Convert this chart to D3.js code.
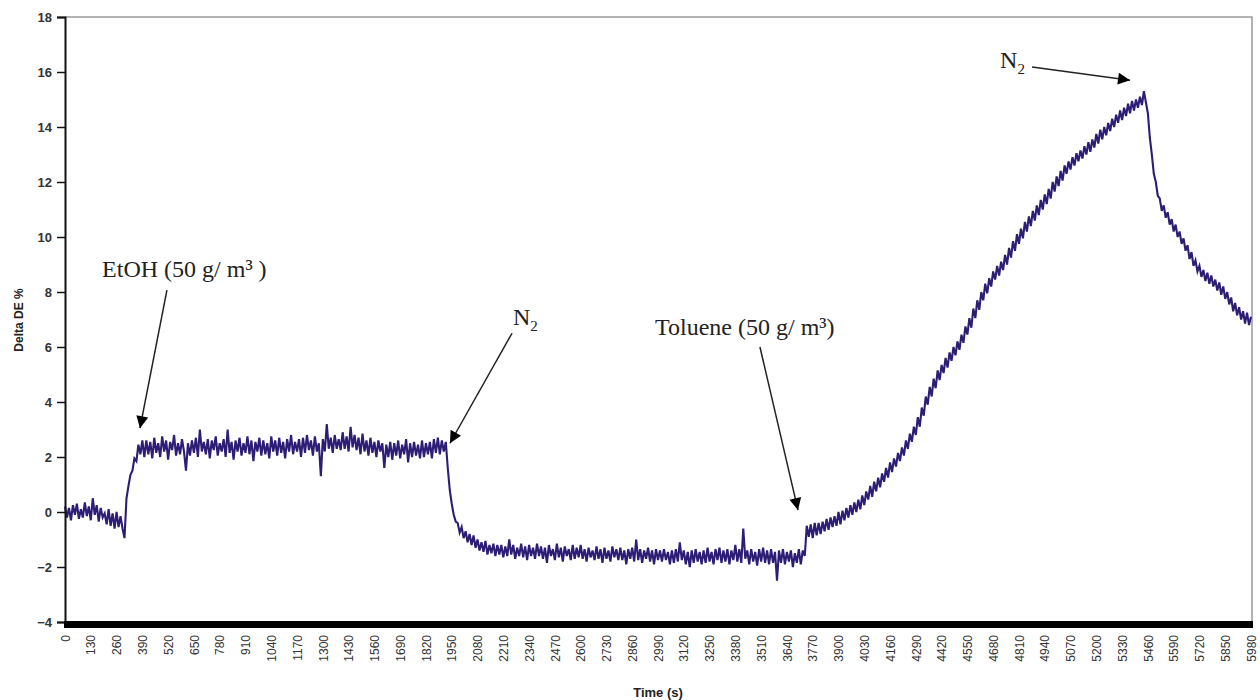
<!DOCTYPE html>
<html><head><meta charset="utf-8">
<script src="https://cdn.jsdelivr.net/npm/d3@7"></script>
<style>body{margin:0;background:#fff}</style></head>
<body><svg id="c" width="1260" height="700"></svg>
<script>
// sampling interval of the recorded trace (s)
const timeStep = 10;
// Delta DE %, one value every 10 s from 0 to 5980 s
const deltaDE = [
  0.2,-0.2,0.15,-0.3,0.25,-0.1,0.3,-0.25,0.1,-0.2,0.35,-0.15,0.2,-0.3,0.5,-0.1,0.25,-0.35,0.15,-0.2,
  -0.05,-0.45,0.1,-0.5,-0.05,-0.6,0.0,-0.55,-0.15,-0.6,-0.95,0.5,0.95,1.35,1.5,1.95,1.85,2.45,2.1,2.6,
  2.0,2.6,2.1,2.55,1.95,2.7,2.15,2.5,2.0,2.75,2.2,2.6,1.9,2.55,2.25,2.8,2.05,2.5,2.1,2.65,
  2.2,1.5,2.5,2.05,2.6,2.15,2.7,2.0,3.0,2.2,2.55,2.1,2.65,1.95,2.6,2.25,2.75,2.05,2.5,2.2,
  2.65,2.0,3.0,2.15,2.55,1.9,2.6,2.2,2.7,2.05,2.5,2.15,2.75,2.1,2.6,1.85,2.55,2.2,2.7,2.05,
  2.6,2.1,2.5,1.95,2.75,2.2,2.6,2.05,2.7,2.15,2.55,1.95,2.65,2.2,2.8,2.1,2.55,2.2,2.65,2.0,
  2.7,2.15,2.8,2.25,2.6,2.05,2.75,2.2,2.5,1.3,2.65,2.2,3.2,2.3,2.7,2.15,2.8,2.3,2.65,2.25,
  2.9,2.3,2.75,2.2,3.1,2.35,2.8,2.25,2.7,2.1,2.85,2.2,2.6,2.05,2.7,2.15,2.55,2.0,2.6,2.2,
  2.5,1.6,2.45,2.0,2.55,1.9,2.5,2.05,2.6,1.95,2.45,2.1,2.65,1.8,2.5,2.0,2.55,2.05,2.45,1.95,
  2.6,2.0,2.5,2.1,2.55,1.95,2.65,2.15,2.7,2.1,2.6,2.2,2.55,1.6,0.8,0.3,-0.1,-0.35,-0.4,-0.75,
  -0.55,-0.95,-0.7,-1.1,-0.8,-1.2,-0.85,-1.3,-1.0,-1.4,-1.1,-1.45,-1.05,-1.55,-1.2,-1.5,-1.15,-1.6,-1.2,-1.55,
  -1.2,-1.65,-1.25,-1.6,-1.0,-1.55,-1.2,-1.7,-1.3,-1.6,-1.15,-1.65,-1.25,-1.75,-1.2,-1.6,-1.3,-1.7,-1.15,-1.6,
  -1.25,-1.7,-1.3,-1.85,-1.2,-1.6,-1.35,-1.75,-1.15,-1.65,-1.3,-1.8,-1.25,-1.6,-1.35,-1.75,-1.2,-1.7,-1.3,-1.65,
  -1.2,-1.7,-1.35,-1.8,-1.3,-1.65,-1.4,-1.75,-1.25,-1.7,-1.35,-1.85,-1.3,-1.7,-1.4,-1.8,-1.25,-1.65,-1.35,-1.75,
  -1.3,-1.75,-1.4,-1.9,-1.35,-1.7,-1.3,-1.8,-1.0,-1.75,-1.35,-1.85,-1.4,-1.7,-1.3,-1.8,-1.4,-1.9,-1.35,-1.75,
  -1.4,-1.8,-1.35,-1.75,-1.45,-1.9,-1.4,-1.85,-1.35,-1.8,-1.1,-1.75,-1.4,-1.9,-1.45,-2.0,-1.4,-1.85,-1.35,-1.8,
  -1.45,-1.9,-1.4,-1.85,-1.3,-1.8,-1.45,-1.9,-1.35,-1.75,-1.3,-1.85,-1.4,-1.8,-1.35,-1.9,-1.4,-1.75,-1.2,-1.8,
  -1.35,-1.85,-0.6,-1.7,-1.4,-1.9,-1.35,-1.8,-1.45,-1.95,-1.35,-1.8,-1.3,-1.85,-1.4,-1.9,-1.35,-1.85,-1.45,-2.5,
  -1.4,-1.85,-1.35,-1.9,-1.45,-1.8,-1.4,-2.0,-1.5,-1.85,-1.35,-1.9,-1.4,-1.6,-0.5,-0.9,-0.45,-0.95,-0.4,-0.85,
  -0.4,-0.8,-0.35,-0.7,-0.25,-0.65,-0.2,-0.55,-0.15,-0.5,0.0,-0.45,0.05,-0.3,0.15,-0.2,0.25,-0.1,0.35,0.0,
  0.45,0.1,0.6,0.25,0.75,0.45,0.95,0.55,1.1,0.75,1.25,0.9,1.4,1.1,1.6,1.25,1.8,1.45,1.95,1.65,
  2.15,1.85,2.35,2.05,2.6,2.3,2.85,2.55,3.1,2.8,3.45,3.1,3.8,3.5,4.2,3.9,4.55,4.2,4.85,4.5,
  5.15,4.8,5.35,5.05,5.6,5.25,5.8,5.5,6.0,5.7,6.2,5.9,6.45,6.15,6.75,6.45,7.05,6.7,7.4,7.05,
  7.7,7.35,8.0,7.7,8.3,7.95,8.5,8.2,8.75,8.45,8.95,8.6,9.1,8.8,9.35,9.0,9.6,9.25,9.85,9.5,
  10.1,9.75,10.3,9.95,10.55,10.2,10.75,10.4,10.95,10.6,11.15,10.8,11.35,11.0,11.55,11.2,11.75,11.4,12.0,11.65,
  12.2,11.85,12.4,12.05,12.6,12.3,12.75,12.45,12.9,12.6,13.05,12.75,13.15,12.85,13.3,13.0,13.45,13.1,13.55,13.25,
  13.75,13.4,13.9,13.55,14.0,13.7,14.15,13.85,14.3,14.0,14.45,14.15,14.6,14.25,14.7,14.4,14.85,14.5,14.95,14.6,
  15.0,14.7,15.1,14.8,15.3,14.9,14.5,13.6,13.0,12.3,12.0,11.5,11.4,10.95,11.15,10.7,10.9,10.45,10.65,10.2,
  10.45,10.0,10.2,9.75,9.95,9.5,9.7,9.2,9.45,8.95,9.15,8.75,8.95,8.55,8.8,8.4,8.7,8.3,8.6,8.2,
  8.45,8.05,8.35,7.9,8.2,7.75,8.0,7.55,7.8,7.3,7.6,7.15,7.45,7.0,7.3,6.85,7.25,6.8,7.1
];
const xTickLabels = [0,130,260,390,520,650,780,910,1040,1170,1300,1430,1560,1690,1820,1950,2080,2210,2340,2470,2600,2730,2860,2990,3120,3250,3380,3510,3640,3770,3900,4030,4160,4290,4420,4550,4680,4810,4940,5070,5200,5330,5460,5590,5720,5850,5980];
const yTicks = [-4,-2,0,2,4,6,8,10,12,14,16,18];
const xTitle = "Time (s)";
const yTitle = "Delta DE %";
// annotation labels: text, label anchor (time, value), arrow start and tip (time, value)
const annoText = ["EtOH (50 g/ m³ )", "N₂", "Toluene (50 g/ m³)", "N₂"];
const annoLabelAt = [[187, 8.55], [2259, 6.8], [2975, 6.44], [4715, 16.15]];
const annoArrowFrom = [[514, 8.07], [2254, 6.5], [3504, 6.0], [4876, 16.18]];
const annoArrowTo = [[378, 3.05], [1941, 2.5], [3696, 0.07], [5370, 15.7]];

const series = deltaDE.map((v, i) => ({t: i * timeStep, v}));

const svg = d3.select("#c");
svg.append("rect").attr("width", 1260).attr("height", 700).attr("fill", "#fff");

const x = d3.scaleLinear().domain([0, 5980]).range([65, 1251]);
const y = d3.scaleLinear().domain([-4, 18]).range([622, 17]);

// frame (top & right, grey)
svg.append("path").attr("d", `M65,17H1252V622`).attr("fill", "none").attr("stroke", "#9a9a9a").attr("stroke-width", 1.5);

// data line
const line = d3.line().x(d => x(d.t)).y(d => y(d.v));
svg.append("path").datum(series).attr("d", line)
  .attr("fill", "none").attr("stroke", "#2d1d74").attr("stroke-width", 2.1).attr("stroke-linejoin", "miter");

// y axis
const yAxis = d3.axisLeft(y).tickValues(yTicks).tickSize(8).tickPadding(5).tickFormat(d3.format("d"));
const gy = svg.append("g").attr("transform", "translate(65,0)").call(yAxis);
gy.select(".domain").attr("stroke", "#111").attr("stroke-width", 2);
gy.selectAll(".tick line").attr("stroke", "#111").attr("stroke-width", 1.5);
gy.selectAll(".tick text").attr("font-family", "Liberation Sans, Arial, sans-serif").attr("font-size", 13).attr("font-weight", "bold").attr("fill", "#333");

// x axis (thick black base)
const xAxis = d3.axisBottom(x).tickValues(xTickLabels).tickSize(0).tickPadding(0).tickFormat(d3.format("d"));
const gx = svg.append("g").attr("transform", "translate(0,622)").call(xAxis);
gx.select(".domain").remove();
svg.append("rect").attr("x", 64).attr("y", 621).attr("width", 1189).attr("height", 7).attr("fill", "#000");
gx.selectAll(".tick text")
  .attr("font-family", "Liberation Sans, Arial, sans-serif").attr("font-size", 12).attr("fill", "#333")
  .attr("text-anchor", "end").attr("dy", "0.35em")
  .attr("transform", "translate(0,13) rotate(-90)").attr("x", 0).attr("y", 0);

// titles
svg.append("text").attr("x", 658).attr("y", 697).attr("text-anchor", "middle")
  .attr("font-family", "Liberation Sans, Arial, sans-serif").attr("font-size", 13).attr("font-weight", "bold").attr("fill", "#222").text(xTitle);
svg.append("text").attr("transform", "translate(23,320) rotate(-90)").attr("text-anchor", "middle")
  .attr("font-family", "Liberation Sans, Arial, sans-serif").attr("font-size", 12).attr("font-weight", "bold").attr("fill", "#222").text(yTitle);

// arrow marker
svg.append("defs").append("marker").attr("id", "ah").attr("viewBox", "0 0 10 10")
  .attr("refX", 10).attr("refY", 5).attr("markerWidth", 14).attr("markerHeight", 12)
  .attr("markerUnits", "userSpaceOnUse").attr("orient", "auto")
  .append("path").attr("d", "M0,0L10,5L0,10Z").attr("fill", "#000");

annoText.forEach((txt, i) => {
  const [t0, v0] = annoArrowFrom[i], [t1, v1] = annoArrowTo[i];
  svg.append("line").attr("x1", x(t0)).attr("y1", y(v0)).attr("x2", x(t1)).attr("y2", y(v1))
    .attr("stroke", "#222").attr("stroke-width", 1.5).attr("marker-end", "url(#ah)");
  const [lt, lv] = annoLabelAt[i];
  const tx = svg.append("text").attr("x", x(lt)).attr("y", y(lv))
    .attr("font-family", "Liberation Serif, Times New Roman, serif").attr("font-size", 24).attr("fill", "#222");
  if (txt === "N₂") {
    tx.append("tspan").text("N");
    tx.append("tspan").attr("font-size", 15).attr("dy", 6).text("2");
  } else {
    tx.text(txt);
  }
});
</script></body></html>
